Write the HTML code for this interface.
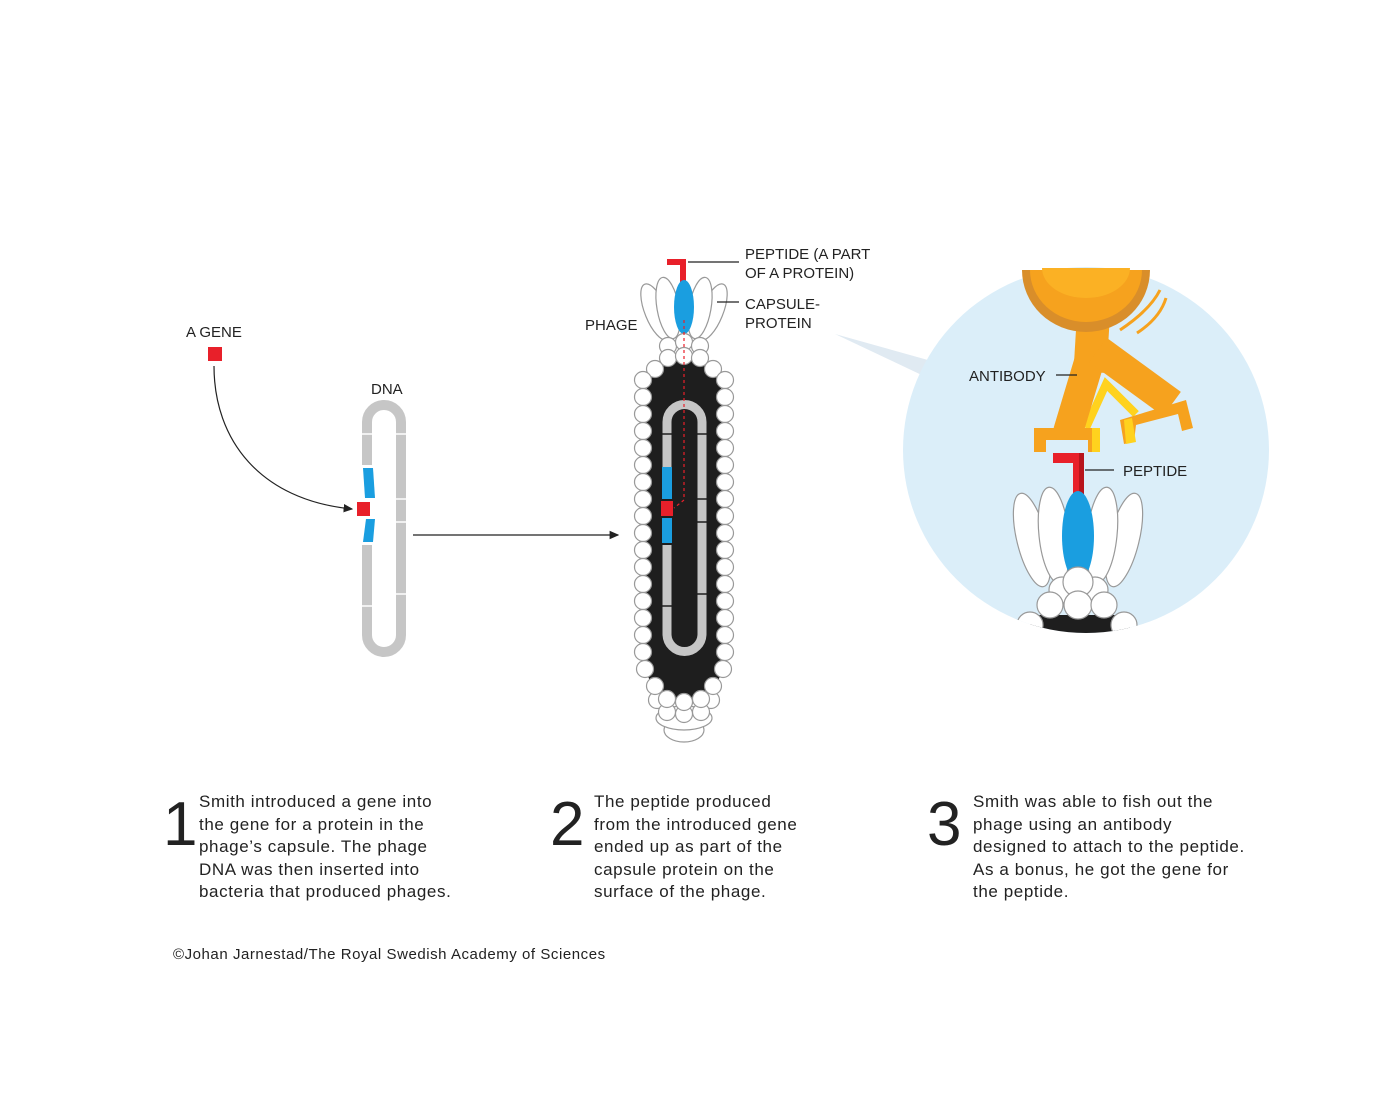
<!DOCTYPE html>
<html><head><meta charset="utf-8"><style>
html,body{margin:0;padding:0;background:#fff}
svg{display:block}
text{font-family:"Liberation Sans",sans-serif;fill:#222}
.l{font-size:15px;letter-spacing:0px}
.b{font-size:17px;letter-spacing:.6px}
.n{font-size:62px;font-weight:300}
</style></head><body>
<svg width="1389" height="1110" viewBox="0 0 1389 1110" xmlns="http://www.w3.org/2000/svg">
<defs>
<clipPath id="cc"><circle cx="1086" cy="450" r="183"/></clipPath>
<marker id="ar" markerWidth="8" markerHeight="8" refX="7" refY="4" orient="auto"><path d="M0,0.5 L8,4 L0,7.5z" fill="#222"/></marker>
</defs>

<!-- Gene -->
<text x="186" y="337" class="l">A GENE</text>
<rect x="208" y="347" width="14" height="14" fill="#e8202a"/>
<path d="M214,366 C214,440 260,500 352,509" fill="none" stroke="#222" stroke-width="1.2" marker-end="url(#ar)"/>

<!-- DNA -->
<text x="371" y="394" class="l">DNA</text>
<path d="M367,465 V422 a17,17 0 0 1 34,0 V635 a17,17 0 0 1 -34,0 V545" fill="none" stroke="#c6c6c6" stroke-width="10"/>
<g stroke="#fff" stroke-width="1.5">
<line x1="361" y1="434" x2="373" y2="434"/><line x1="396" y1="434" x2="408" y2="434"/>
<line x1="396" y1="499" x2="408" y2="499"/><line x1="396" y1="522" x2="408" y2="522"/>
<line x1="396" y1="594" x2="408" y2="594"/><line x1="361" y1="606" x2="373" y2="606"/>
</g>
<polygon points="363,468 373,468 375,498 365,498" fill="#1a9ee0"/>
<polygon points="366,519 375,519 373,542 363,542" fill="#1a9ee0"/>
<rect x="357" y="502" width="13" height="14" fill="#e8202a"/>
<line x1="413" y1="535" x2="618" y2="535" stroke="#222" stroke-width="1.2" marker-end="url(#ar)"/>

<!-- Phage -->
<text x="585" y="330" class="l">PHAGE</text>
<g fill="#fff" stroke="#999" stroke-width="1.2">
<ellipse cx="656" cy="312" rx="11" ry="30" transform="rotate(-22 656 312)"/>
<ellipse cx="712" cy="312" rx="11" ry="30" transform="rotate(22 712 312)"/>
<ellipse cx="668" cy="308" rx="11" ry="31" transform="rotate(-10 668 308)"/>
<ellipse cx="700" cy="308" rx="11" ry="31" transform="rotate(10 700 308)"/>
</g>
<rect x="680" y="259" width="6" height="28" fill="#e8202a"/>
<rect x="667" y="259" width="19" height="6" fill="#e8202a"/>
<ellipse cx="684" cy="307" rx="10" ry="27" fill="#1a9ee0"/>
<rect x="646" y="358" width="76" height="344" rx="38" fill="#1e1e1e"/>
<g fill="#fff" stroke="#999" stroke-width="1.2">
<circle cx="668" cy="346" r="8.5"/><circle cx="684" cy="342" r="8.5"/><circle cx="700" cy="346" r="8.5"/>
<circle cx="668" cy="358" r="8.5"/><circle cx="684" cy="356" r="8.5"/><circle cx="700" cy="358" r="8.5"/>
<circle cx="655" cy="369" r="8.5"/><circle cx="713" cy="369" r="8.5"/>
<circle cx="643" cy="380" r="8.5"/><circle cx="643" cy="397" r="8.5"/><circle cx="643" cy="414" r="8.5"/><circle cx="643" cy="431" r="8.5"/><circle cx="643" cy="448" r="8.5"/><circle cx="643" cy="465" r="8.5"/><circle cx="643" cy="482" r="8.5"/><circle cx="643" cy="499" r="8.5"/><circle cx="643" cy="516" r="8.5"/><circle cx="643" cy="533" r="8.5"/><circle cx="643" cy="550" r="8.5"/><circle cx="643" cy="567" r="8.5"/><circle cx="643" cy="584" r="8.5"/><circle cx="643" cy="601" r="8.5"/><circle cx="643" cy="618" r="8.5"/><circle cx="643" cy="635" r="8.5"/><circle cx="643" cy="652" r="8.5"/><circle cx="645" cy="669" r="8.5"/>
<circle cx="725" cy="380" r="8.5"/><circle cx="725" cy="397" r="8.5"/><circle cx="725" cy="414" r="8.5"/><circle cx="725" cy="431" r="8.5"/><circle cx="725" cy="448" r="8.5"/><circle cx="725" cy="465" r="8.5"/><circle cx="725" cy="482" r="8.5"/><circle cx="725" cy="499" r="8.5"/><circle cx="725" cy="516" r="8.5"/><circle cx="725" cy="533" r="8.5"/><circle cx="725" cy="550" r="8.5"/><circle cx="725" cy="567" r="8.5"/><circle cx="725" cy="584" r="8.5"/><circle cx="725" cy="601" r="8.5"/><circle cx="725" cy="618" r="8.5"/><circle cx="725" cy="635" r="8.5"/><circle cx="725" cy="652" r="8.5"/><circle cx="723" cy="669" r="8.5"/>
<ellipse cx="684" cy="730" rx="20" ry="12"/>
<ellipse cx="684" cy="718" rx="28" ry="12"/>
<circle cx="657" cy="700" r="8.5"/><circle cx="711" cy="700" r="8.5"/>
<circle cx="667" cy="712" r="8.5"/><circle cx="701" cy="712" r="8.5"/><circle cx="684" cy="714" r="8.5"/>
<circle cx="655" cy="686" r="8.5"/><circle cx="713" cy="686" r="8.5"/>
<circle cx="667" cy="699" r="8.5"/><circle cx="684" cy="702" r="8.5"/><circle cx="701" cy="699" r="8.5"/>
</g>
<path d="M667,470 V422 a17,17 0 0 1 35,0 V634 a17,17 0 0 1 -35,0 V545" fill="none" stroke="#c6c6c6" stroke-width="9"/>
<g stroke="#1e1e1e" stroke-width="1.5">
<line x1="660" y1="434" x2="672" y2="434"/><line x1="697" y1="434" x2="709" y2="434"/>
<line x1="697" y1="499" x2="709" y2="499"/><line x1="697" y1="522" x2="709" y2="522"/>
<line x1="697" y1="594" x2="709" y2="594"/><line x1="660" y1="606" x2="672" y2="606"/>
</g>
<rect x="662" y="467" width="10" height="32" fill="#1a9ee0"/>
<rect x="662" y="518" width="10" height="25" fill="#1a9ee0"/>
<rect x="661" y="501" width="12" height="15" fill="#e8202a"/>
<path d="M684,320 V500 L674,508" fill="none" stroke="#e8202a" stroke-width="1.2" stroke-dasharray="3,3"/>
<line x1="688" y1="262" x2="739" y2="262" stroke="#222" stroke-width="1.2"/>
<line x1="717" y1="302" x2="739" y2="302" stroke="#222" stroke-width="1.2"/>
<text x="745" y="259" class="l">PEPTIDE (A PART</text>
<text x="745" y="278" class="l">OF A PROTEIN)</text>
<text x="745" y="309" class="l">CAPSULE-</text>
<text x="745" y="328" class="l">PROTEIN</text>

<!-- Pointer -->
<polygon points="835,334 935,362 928,378" fill="#e0eaf2"/>
<!-- Circle -->
<circle cx="1086" cy="450" r="183" fill="#dbeef9"/>
<g clip-path="url(#cc)">
<path d="M1120,330 Q1150,310 1160,290" fill="none" stroke="#f6a21e" stroke-width="3"/>
<path d="M1137,333 Q1160,318 1166,298" fill="none" stroke="#f6a21e" stroke-width="3"/>
<!-- arms -->
<line x1="1093" y1="322" x2="1090" y2="372" stroke="#f6a21e" stroke-width="33"/>
<polyline points="1086,428 1106,384 1136,414" fill="none" stroke="#ffd21e" stroke-width="8" stroke-linejoin="miter"/>
<line x1="1092" y1="352" x2="1068" y2="432" stroke="#f6a21e" stroke-width="30"/>
<line x1="1098" y1="350" x2="1172" y2="404" stroke="#f6a21e" stroke-width="30"/>
<polygon points="1034,428 1100,428 1100,452 1088,452 1088,440 1046,440 1046,452 1034,452" fill="#f6a21e"/>
<rect x="1092" y="428" width="8" height="24" fill="#ffd21e"/>
<polygon points="1120,420 1186,400 1193,428 1182,431 1178,414 1136,425 1134,442 1124,444" fill="#f6a21e"/>
<polygon points="1124,420 1132,418 1136,442 1126,444" fill="#ffd21e"/>
<rect x="1053" y="453" width="31" height="10" fill="#e8202a"/>
<rect x="1073" y="453" width="11" height="45" fill="#e8202a"/>
<rect x="1079" y="453" width="5" height="45" fill="#b8141c"/>
<g fill="#fff" stroke="#999" stroke-width="1.2">
<ellipse cx="1032" cy="540" rx="15" ry="48" transform="rotate(-14 1032 540)"/>
<ellipse cx="1124" cy="540" rx="15" ry="48" transform="rotate(14 1124 540)"/>
<ellipse cx="1054" cy="535" rx="15" ry="48" transform="rotate(-6 1054 535)"/>
<ellipse cx="1102" cy="535" rx="15" ry="48" transform="rotate(6 1102 535)"/>
</g>
<ellipse cx="1078" cy="536" rx="16" ry="45" fill="#1a9ee0"/>
<rect x="1030" y="615" width="100" height="30" fill="#1e1e1e"/>
<g fill="#fff" stroke="#999" stroke-width="1.2">
<circle cx="1062" cy="590" r="13"/><circle cx="1095" cy="590" r="13"/><circle cx="1078" cy="582" r="15"/>
<circle cx="1050" cy="605" r="13"/><circle cx="1078" cy="605" r="14"/><circle cx="1104" cy="605" r="13"/>
<circle cx="1030" cy="625" r="13"/><circle cx="1124" cy="625" r="13"/>
</g>
</g>
<!-- dome (outside clip) -->
<path d="M1022,270 H1150 A64,62 0 0 1 1022,270 Z" fill="#d98e2a"/>
<path d="M1030,270 H1142 A56,52 0 0 1 1030,270 Z" fill="#f6a21e"/>
<path d="M1042,268 H1130 A44,30 0 0 1 1042,268 Z" fill="#fbb124"/>
<line x1="1056" y1="375" x2="1077" y2="375" stroke="#222" stroke-width="1.2"/>
<text x="969" y="381" class="l">ANTIBODY</text>
<line x1="1085" y1="470" x2="1114" y2="470" stroke="#222" stroke-width="1.2"/>
<text x="1123" y="476" class="l">PEPTIDE</text>

<!-- Captions -->
<text x="163" y="845" class="n">1</text>
<text x="199" y="807" class="b">Smith introduced a gene into</text>
<text x="199" y="830" class="b">the gene for a protein in the</text>
<text x="199" y="852" class="b">phage’s capsule. The phage</text>
<text x="199" y="875" class="b">DNA was then inserted into</text>
<text x="199" y="897" class="b">bacteria that produced phages.</text>

<text x="550" y="845" class="n">2</text>
<text x="594" y="807" class="b">The peptide produced</text>
<text x="594" y="830" class="b">from the introduced gene</text>
<text x="594" y="852" class="b">ended up as part of the</text>
<text x="594" y="875" class="b">capsule protein on the</text>
<text x="594" y="897" class="b">surface of the phage.</text>

<text x="927" y="845" class="n">3</text>
<text x="973" y="807" class="b">Smith was able to fish out the</text>
<text x="973" y="830" class="b">phage using an antibody</text>
<text x="973" y="852" class="b">designed to attach to the peptide.</text>
<text x="973" y="875" class="b">As a bonus, he got the gene for</text>
<text x="973" y="897" class="b">the peptide.</text>

<text x="173" y="959" style="font-size:15px;letter-spacing:.55px">©Johan Jarnestad/The Royal Swedish Academy of Sciences</text>
</svg>
</body></html>
